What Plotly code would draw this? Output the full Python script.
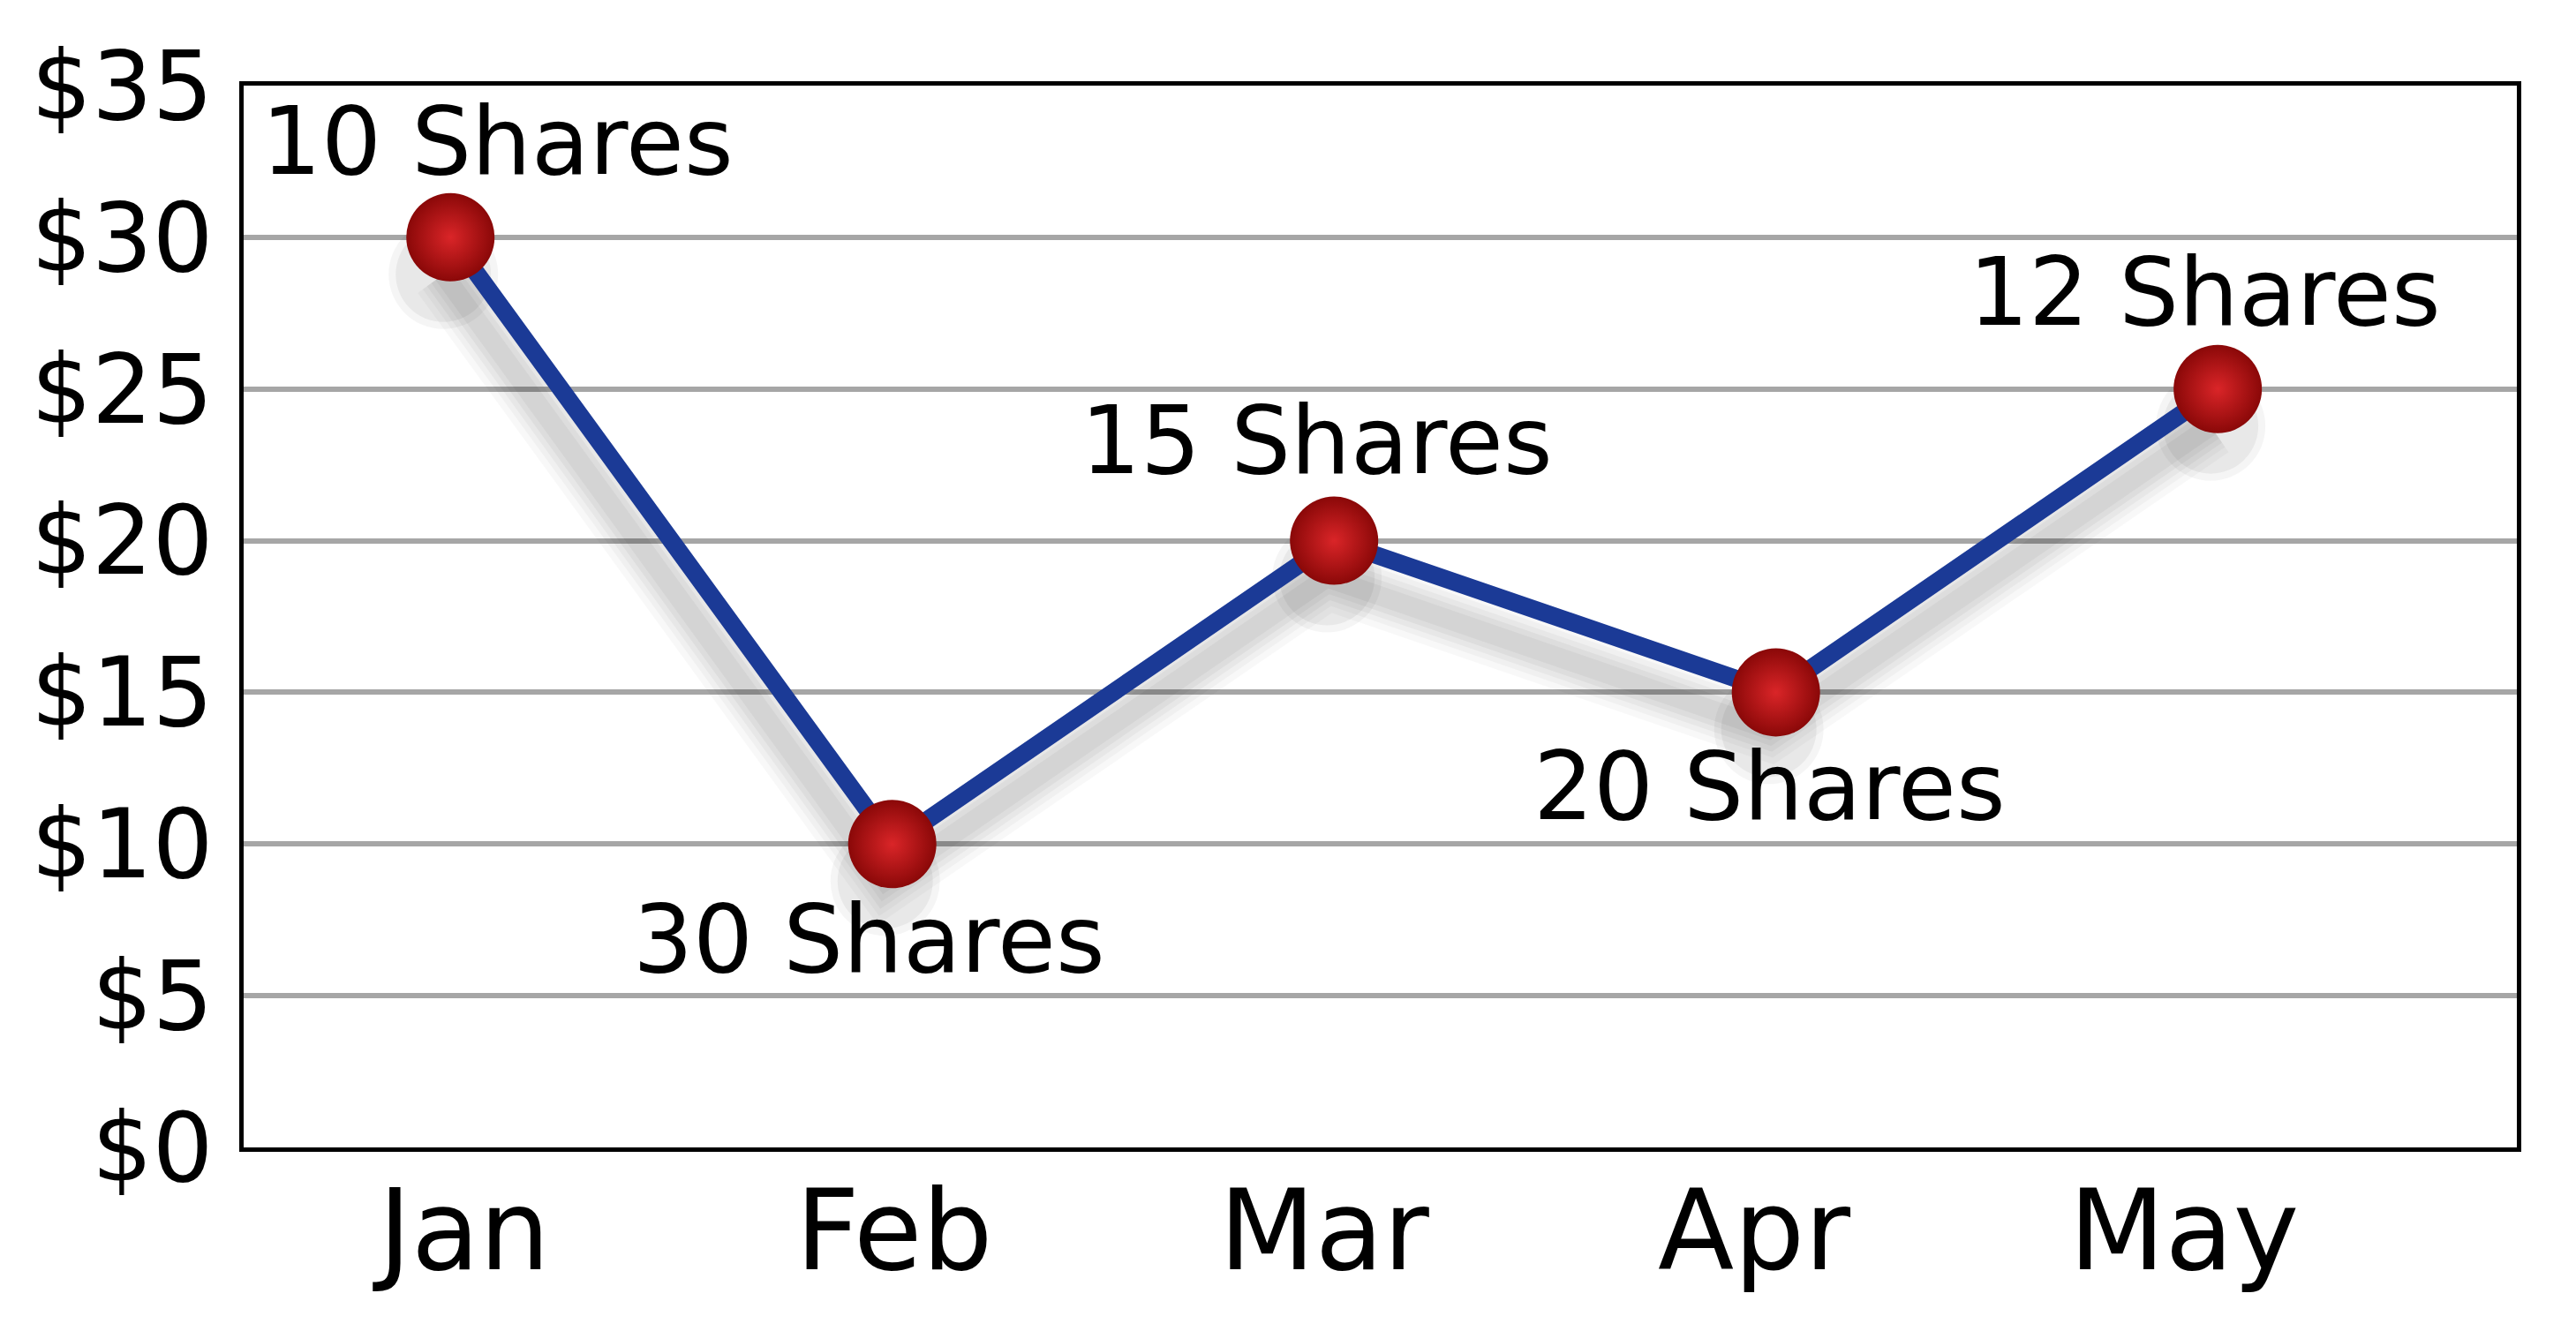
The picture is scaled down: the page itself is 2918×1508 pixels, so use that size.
import plotly.graph_objects as go

months = ["Jan", "Feb", "Mar", "Apr", "May"]
prices = [30, 10, 20, 15, 25]
share_labels = ["10 Shares", "30 Shares", "15 Shares", "20 Shares", "12 Shares"]
y_tick_vals = [0, 5, 10, 15, 20, 25, 30, 35]
y_tick_text = ["$0", "$5", "$10", "$15", "$20", "$25", "$30", "$35"]

FONT = "DejaVu Sans"
xs = list(range(len(months)))

fig = go.Figure()

# soft drop shadow (stacked translucent strokes, shifted down a little)
sx = [x - 0.016 for x in xs]
sy = [v - 1.22 for v in prices]
for w, a in [(72, 0.028), (58, 0.032), (46, 0.036), (34, 0.04), (22, 0.04)]:
    fig.add_trace(go.Scatter(x=sx, y=sy, mode="lines",
                             line=dict(color=f"rgba(0,0,0,{a})", width=w),
                             hoverinfo="skip", showlegend=False))
for s, a in [(124, 0.04), (108, 0.05)]:
    fig.add_trace(go.Scatter(x=sx, y=sy, mode="markers",
                             marker=dict(size=s, color=f"rgba(0,0,0,{a})", line=dict(width=0)),
                             hoverinfo="skip", showlegend=False))

fig.add_trace(go.Scatter(
    x=xs, y=prices, mode="lines+markers",
    line=dict(color="#1B3A96", width=20),
    marker=dict(size=100, color="#8A0808", line=dict(width=0),
                gradient=dict(type="radial", color="#DA2528")),
    showlegend=False,
))

# category-label axis (labels spaced slightly differently from the markers, as in the original)
fig.add_trace(go.Scatter(x=xs, y=prices, xaxis="x2", mode="markers",
                         marker=dict(opacity=0), hoverinfo="skip", showlegend=False))

offsets = [(53, 109), (-26, -108), (-20, 114), (-7, -107), (-15, 110)]
for m, v, t, (dx, dy) in zip(xs, prices, share_labels, offsets):
    fig.add_annotation(x=m, y=v, text=t, showarrow=False, xshift=dx, yshift=dy,
                       xref="x", yref="y",
                       font=dict(family=FONT, size=107, color="black"))

fig.update_layout(
    width=2918, height=1508,
    margin=dict(l=276, r=67, t=97, b=208),
    paper_bgcolor="white", plot_bgcolor="white",
    font=dict(family=FONT, color="black"),
    xaxis=dict(
        range=[-0.468, 4.677], showticklabels=False,
        showgrid=False, zeroline=False,
        showline=True, linecolor="black", linewidth=5, mirror=True, ticks="",
    ),
    xaxis2=dict(
        overlaying="x", side="bottom", anchor="y",
        range=[-0.513, 4.774], tickvals=xs, ticktext=months,
        showgrid=False, zeroline=False, showline=False,
        tickfont=dict(family=FONT, size=126), ticks="", ticklabelstandoff=11,
    ),
    yaxis=dict(
        range=[0, 35], tickvals=y_tick_vals, ticktext=y_tick_text,
        showgrid=True, gridcolor="#A6A6A6", gridwidth=6, zeroline=False,
        showline=True, linecolor="black", linewidth=5, mirror=True,
        tickfont=dict(family=FONT, size=108), ticks="", ticklabelstandoff=8,
    ),
)

fig.write_html("out.html", config={"displayModeBar": False},
               post_script="document.body.style.margin='0';document.body.style.overflow='hidden';")
